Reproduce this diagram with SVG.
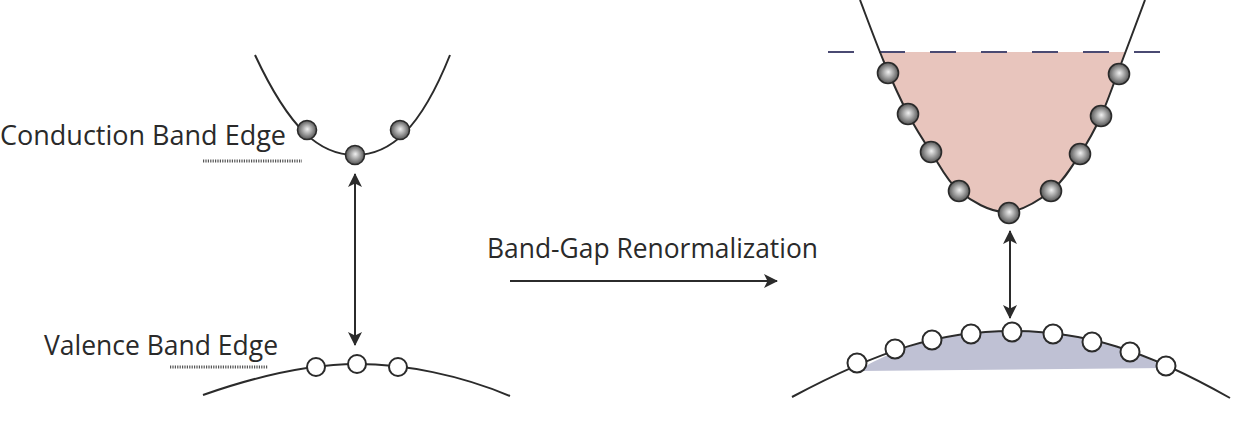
<svg xmlns="http://www.w3.org/2000/svg" width="1248" height="432" viewBox="0 0 1248 432">
<defs>
<style>
.curve{fill:none;stroke:#2b2b2b;stroke-width:2}
.lbl{font-family:"Open Sans","Liberation Sans",sans-serif;fill:#2a2a2a;font-size:27px}
.dot{stroke:#555;stroke-width:3;stroke-dasharray:1.2 1.2}
.e{fill:url(#sphere);stroke:#2a2a2a;stroke-width:1.6}
.h{fill:#fff;stroke:#2b2b2b;stroke-width:2}
.arr{stroke:#2b2b2b;stroke-width:2;fill:none}
</style>
<radialGradient id="sphere" cx="0.5" cy="0.5" r="0.55" fx="0.52" fy="0.45">
<stop offset="0" stop-color="#f0f0f0"/>
<stop offset="0.5" stop-color="#9c9c9c"/>
<stop offset="1" stop-color="#454545"/>
</radialGradient>
<marker id="ah" viewBox="0 0 14 14" refX="13" refY="7" markerWidth="14" markerHeight="14" markerUnits="userSpaceOnUse" orient="auto-start-reverse">
<path d="M0,0 L14,7 L0,14 L3.5,7 Z" fill="#2b2b2b"/>
</marker>
<clipPath id="below">
<rect x="0" y="52" width="1248" height="400"/>
</clipPath>
</defs>

<g id="left-conduction-band">
<path class="curve" d="M255,55 C290,130 320,155 355,155 C390,155 420,130 450,55"/>
<circle class="e" cx="307" cy="130" r="9.5"/>
<circle class="e" cx="355" cy="155" r="9.5"/>
<circle class="e" cx="400" cy="130" r="9.5"/>
</g>

<g id="conduction-label">
<text class="lbl" x="0" y="145" textLength="286" lengthAdjust="spacingAndGlyphs">Conduction Band Edge</text>
<line class="dot" x1="203" y1="161" x2="302" y2="161"/>
</g>

<g id="left-valence-band">
<path class="curve" d="M203,395 C260,375 310,364 357,364 C405,364 460,375 510,396"/>
<circle class="h" cx="316" cy="367" r="9"/>
<circle class="h" cx="357" cy="364" r="9"/>
<circle class="h" cx="398" cy="367" r="9"/>
</g>

<g id="valence-label">
<text class="lbl" x="44" y="355" textLength="234" lengthAdjust="spacingAndGlyphs">Valence Band Edge</text>
<line class="dot" x1="170" y1="367" x2="268" y2="367"/>
</g>

<g id="renormalization-label">
<text class="lbl" x="487" y="258" textLength="331" lengthAdjust="spacingAndGlyphs">Band-Gap Renormalization</text>
</g>

<g id="right-conduction-band">
<path d="M860,0 C864,10.3 876,43 884,62 C892,81 900.2,99 908,114 C915.8,129 922.5,139.2 931,152 C939.5,164.8 946.7,181 959,191 C971.3,201 989.7,212 1005,212 C1020.3,212 1038.5,200.7 1051,191 C1063.5,181.3 1071.7,166.5 1080,154 C1088.3,141.5 1094.2,131 1101,116 C1107.8,101 1113.7,83.3 1121,64 C1128.3,44.7 1141,10.7 1145,0 Z" fill="#e8c5bd" clip-path="url(#below)"/>
<line x1="828" y1="52" x2="1162" y2="52" stroke="#4a4a72" stroke-width="2" stroke-dasharray="26 25"/>
<path class="curve" d="M860,0 C864,10.3 876,43 884,62 C892,81 900.2,99 908,114 C915.8,129 922.5,139.2 931,152 C939.5,164.8 946.7,181 959,191 C971.3,201 989.7,212 1005,212 C1020.3,212 1038.5,200.7 1051,191 C1063.5,181.3 1071.7,166.5 1080,154 C1088.3,141.5 1094.2,131 1101,116 C1107.8,101 1113.7,83.3 1121,64 C1128.3,44.7 1141,10.7 1145,0"/>
<circle class="e" cx="888" cy="73" r="10.5"/>
<circle class="e" cx="908" cy="114" r="10.5"/>
<circle class="e" cx="931" cy="152" r="10.5"/>
<circle class="e" cx="959" cy="191" r="10.5"/>
<circle class="e" cx="1009" cy="213" r="10.5"/>
<circle class="e" cx="1051" cy="191" r="10.5"/>
<circle class="e" cx="1080" cy="154" r="10.5"/>
<circle class="e" cx="1101" cy="116" r="10.5"/>
<circle class="e" cx="1119" cy="74" r="10.5"/>
</g>

<g id="right-valence-band">
<path d="M857,371 C900,345 950,331 1012,331 C1075,331 1125,345 1166,368 Z" fill="#bfc1d4"/>
<path class="curve" d="M792,397 C880,350 940,331 1012,331 C1085,331 1145,350 1230,398"/>
<circle class="h" cx="857" cy="363" r="9.5"/>
<circle class="h" cx="895" cy="349" r="9.5"/>
<circle class="h" cx="932" cy="340" r="9.5"/>
<circle class="h" cx="971" cy="334" r="9.5"/>
<circle class="h" cx="1012" cy="332" r="9.5"/>
<circle class="h" cx="1053" cy="334" r="9.5"/>
<circle class="h" cx="1092" cy="342" r="9.5"/>
<circle class="h" cx="1130" cy="352" r="9.5"/>
<circle class="h" cx="1166" cy="366" r="9.5"/>
</g>

<g id="connectors">
<line class="arr" x1="355" y1="174" x2="355" y2="345" marker-start="url(#ah)" marker-end="url(#ah)"/>
<line class="arr" x1="1010" y1="231" x2="1010" y2="318" marker-start="url(#ah)" marker-end="url(#ah)"/>
<line class="arr" x1="510" y1="281" x2="777" y2="281" marker-end="url(#ah)"/>
</g>
</svg>
